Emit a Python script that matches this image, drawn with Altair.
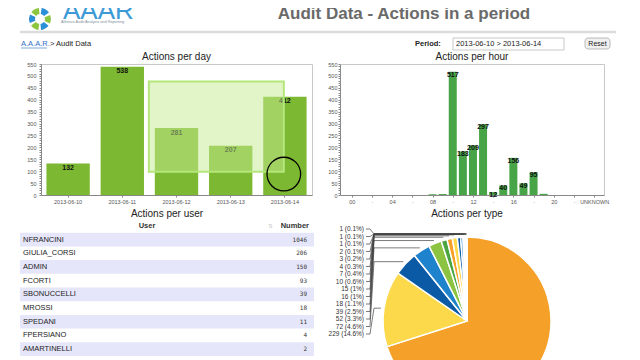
import altair as alt
import pandas as pd
import numpy as np

FONT = "Liberation Sans"

# ---------------- data ----------------
days = ["2013-06-10", "2013-06-11", "2013-06-12", "2013-06-13", "2013-06-14"]
day_counts = [132, 538, 281, 207, 412]

hours = [8, 9, 10, 11, 12, 13, 14, 15, 16, 17, 18, 19]
hour_counts = [3, 4, 517, 183, 209, 297, 12, 40, 156, 49, 95, 5]
hour_ticks = list(range(0, 25, 2))

users = ["NFRANCINI", "GIULIA_CORSI", "ADMIN", "FCORTI", "SBONUCCELLI",
         "MROSSI", "SPEDANI", "FPERSIANO", "AMARTINELLI", "GUEST"]
user_counts = [1046, 206, 150, 93, 39, 18, 11, 4, 2, 1]

type_counts = [1100, 229, 72, 52, 39, 18, 16, 15, 10, 7, 4, 3, 2, 1, 1, 1]
type_pcts = ["70.1%", "14.6%", "4.6%", "3.3%", "2.5%", "1.1%", "1%", "1%",
             "0.6%", "0.4%", "0.3%", "0.2%", "0.1%", "0.1%", "0.1%", "0.1%"]
palette = ["#f5a028", "#fcd84b", "#0b5aa5", "#1e82cd", "#8cc341", "#4ba541"]

# brush selection shown on the day chart (band units, count units)
brush_x = [1.99, 4.48]
brush_y = [98, 477]
cursor_at = [4.48, 88]

DAY_GREEN = "#7cb832"
HOUR_GREEN = "#47a447"

# left overhang shared by every row (width of the day chart's y axis)
OV = 21

# ---------------- header ----------------
one = pd.DataFrame({"k": [0]})
hb = alt.Chart(one)


def htext(s, x, y, clip=False, **kw):
    kw.setdefault("font", FONT)
    return hb.mark_text(text=s, clip=clip, **kw).encode(x=alt.value(x - OV), y=alt.value(y))


icon = []
for i in range(6):
    a0 = 0.15 + i * 1.047
    icon.append(hb.mark_arc(theta=a0, theta2=a0 + 0.8, radius=11, radius2=5,
                            color=["#2a8fd6", "#8cc63f"][i % 2])
                .encode(x=alt.value(20 - OV), y=alt.value(11)))

header = alt.layer(
    *icon,
    htext("AAAR", 43, 11, clip=True, fontSize=26, color="#3d9ad6", align="left",
          baseline="alphabetic"),
    htext("Alfresco Audit Analysis and Reporting", 41, 14, fontSize=3.8, color="#7f8f9c",
          align="left", baseline="middle"),
    htext("Audit Data - Actions in a period", 384, 5.5, clip=True, fontSize=17,
          fontWeight="bold", color="#6a6a6a", align="center", baseline="middle"),
    hb.mark_rule(color="#dcdcdc", strokeWidth=2.5).encode(
        x=alt.value(0 - OV), x2=alt.value(596 - OV), y=alt.value(24)),
    htext("A.A.A.R.", 1, 36, fontSize=7.5, color="#2f6fc9", align="left", baseline="middle"),
    hb.mark_rule(color="#2f6fc9", strokeWidth=0.6).encode(
        x=alt.value(1 - OV), x2=alt.value(27 - OV), y=alt.value(40)),
    htext("> Audit Data", 30, 36, fontSize=7.5, color="#222", align="left", baseline="middle"),
    htext("Period:", 395, 36, fontSize=7.5, fontWeight="bold", color="#222",
          align="left", baseline="middle"),
    hb.mark_rect(fill="white", stroke="#bbbbbb", strokeWidth=0.8).encode(
        x=alt.value(433 - OV), x2=alt.value(544 - OV), y=alt.value(30), y2=alt.value(42)),
    htext("2013-06-10 > 2013-06-14", 436, 36, fontSize=7.5, color="#222",
          align="left", baseline="middle"),
    hb.mark_rect(fill="#f0f0f0", stroke="#aaaaaa", strokeWidth=0.8, cornerRadius=3).encode(
        x=alt.value(565 - OV), x2=alt.value(590 - OV), y=alt.value(30), y2=alt.value(41)),
    htext("Reset", 577.5, 35.5, fontSize=7, color="#222", align="center", baseline="middle"),
).properties(width=575, height=42)

# ---------------- common axis ----------------
def y_axis(ext, pad):
    return alt.Axis(title=None, values=list(range(0, 551, 10)),
                    labelExpr="datum.value % 50 == 0 ? datum.label : ''",
                    labelFontSize=5.5, labelColor="#555", labelOverlap=False,
                    tickSize=2, tickColor="#888", domainColor="#888", grid=False,
                    labelPadding=pad, minExtent=ext, maxExtent=ext)


def title(t, dx=0):
    return alt.TitleParams(t, fontSize=10, fontWeight="normal", font=FONT,
                           color="#222", offset=0, dx=dx)


ysc = alt.Scale(domain=[0, 550], nice=False)

# ---------------- actions per day ----------------
day_df = pd.DataFrame({"day": days, "n": day_counts})
dbase = alt.Chart(day_df).encode(
    x=alt.X("day:N", sort=days, scale=alt.Scale(paddingInner=0.2, paddingOuter=0.1),
            axis=alt.Axis(title=None, labelAngle=0, labelFontSize=5.5, labelColor="#555",
                          tickSize=2, tickColor="#888", domainColor="#888", labelPadding=2,
                          minExtent=13, maxExtent=13)),
    y=alt.Y("n:Q", scale=ysc, axis=y_axis(OV, 3)),
)
dbars = dbase.mark_bar(color=DAY_GREEN)
dlabels = dbase.mark_text(baseline="middle", dy=4.5, fontSize=7, fontWeight="bold",
                          color="#111").encode(text="n:Q")
day_main = alt.layer(dbars, dlabels)

bsx = alt.Scale(domain=[0, 5], nice=False, zero=False)
bsy = alt.Scale(domain=[0, 550], nice=False)
brush_df = pd.DataFrame({"x0": [brush_x[0]], "x1": [brush_x[1]],
                         "y0": [brush_y[0]], "y1": [brush_y[1]]})
brush = alt.Chart(brush_df).mark_rect(fill="#c5ec92", fillOpacity=0.5, stroke="#b4e67a",
                                      strokeWidth=2).encode(
    x=alt.X("x0:Q", scale=bsx, axis=None), x2="x1:Q",
    y=alt.Y("y0:Q", scale=bsy, axis=None), y2="y1:Q",
)
cursor_df = pd.DataFrame({"cx": [cursor_at[0]], "cy": [cursor_at[1]]})
cursor = alt.Chart(cursor_df).mark_point(size=1130, filled=False, stroke="black",
                                         strokeWidth=1.3, opacity=1).encode(
    x=alt.X("cx:Q", scale=bsx, axis=None),
    y=alt.Y("cy:Q", scale=bsy, axis=None),
)
day_over = alt.layer(brush, cursor)
day_chart = alt.layer(day_main, day_over).resolve_scale(
    x="independent", y="independent").properties(
    width=271, height=131, title=title("Actions per day"),
    view=alt.ViewBackground(stroke="#c8c8c8"))

# ---------------- actions per hour ----------------
hour_df = pd.DataFrame({"h": hours, "n": hour_counts})
hbase = alt.Chart(hour_df).encode(
    x=alt.X("h:Q", scale=alt.Scale(domain=[-0.67, 24.48], nice=False, zero=False),
            axis=alt.Axis(title=None, values=hour_ticks, labelFontSize=5.5, labelColor="#555",
                          labelOverlap=False, tickSize=2, tickColor="#888", domainColor="#888",
                          labelPadding=2, grid=False, minExtent=13, maxExtent=13,
                          labelExpr="datum.value == 24 ? 'UNKNOWN' : (datum.value % 4 == 0 ? "
                                    "(datum.value < 10 ? '0' + datum.value : '' + datum.value) : '\u00b7')")),
    y=alt.Y("n:Q", scale=ysc, axis=y_axis(15, 1)),
)
hbars = hbase.mark_bar(size=8, color=HOUR_GREEN)
hlabels = hbase.transform_filter("datum.n >= 10").mark_text(
    baseline="middle", dy=3, fontSize=7, fontWeight="bold", color="#111").encode(text="n:Q")
hour_chart = alt.layer(hbars, hlabels).properties(
    width=264, height=131, title=title("Actions per hour"),
    view=alt.ViewBackground(stroke="#c8c8c8"))

# ---------------- actions per user (table) ----------------
TW = 294 - OV
rows = ["hdr"] + [str(i) for i in range(len(users))]
tdf = pd.DataFrame({"r": [str(i) for i in range(len(users))], "user": users,
                    "n": user_counts, "shade": [i % 2 == 0 for i in range(len(users))]})
ys = alt.Y("r:N", scale=alt.Scale(domain=rows, paddingInner=0, paddingOuter=0), axis=None)
tbg = alt.Chart(tdf).transform_filter("datum.shade").mark_rect(color="#e6e6fa").encode(
    x=alt.XDatum(0, scale=alt.Scale(domain=[0, 1], range=[-OV, TW]), axis=None),
    x2=alt.X2Datum(1), y=ys)
tnames = alt.Chart(tdf).mark_text(align="left", fontSize=7.5, color="#222", font=FONT).encode(
    x=alt.value(3 - OV), y=ys, text="user:N")
tnums = alt.Chart(tdf).mark_text(align="right", fontSize=6, color="#333",
                                 font="DejaVu Sans Mono").encode(
    x=alt.value(287 - OV), y=ys, text="n:Q")
hdr_df = pd.DataFrame({"r": ["hdr"]})
th_user = alt.Chart(hdr_df).mark_text(text="User", fontWeight="bold", fontSize=7.5,
                                      color="#333", font=FONT).encode(x=alt.value(127 - OV), y=ys)
th_num = alt.Chart(hdr_df).mark_text(text="Number", fontWeight="bold", fontSize=7.5, align="right",
                                     color="#333", font=FONT).encode(x=alt.value(289 - OV), y=ys)
th_sort = alt.Chart(hdr_df).mark_text(text="\u21c5", fontSize=6, color="#cccccc").encode(
    x=alt.value(250 - OV), y=ys)
table = alt.layer(tbg, tnames, tnums, th_user, th_num, th_sort).properties(
    width=TW, height=13.7 * len(rows), title=title("Actions per user", dx=-OV / 2))

# ---------------- actions per type (pie) ----------------
total = sum(type_counts)
cum = np.cumsum([0] + type_counts)
pie_df = pd.DataFrame({"idx": list(range(len(type_counts))), "n": type_counts,
                       "col": [palette[i % len(palette)] for i in range(len(type_counts))]})
R_OUT = 87
lab_rows, line_rows = [], []
for i in range(1, len(type_counts)):
    j = len(type_counts) - 1 - i
    ang = 2 * np.pi * (cum[i] + type_counts[i] / 2) / total
    xo, yo = R_OUT * np.sin(ang), R_OUT * np.cos(ang)
    ly = 92 - 7.5 * j
    lab_rows.append({"lx": -103, "ly": ly, "t": f"{type_counts[i]} ({type_pcts[i]})"})
    for k, (px, py) in enumerate([(-101, ly), (-97, ly), (-93, yo), (xo, yo)]):
        line_rows.append({"lbl": i, "k": k, "px": px, "py": py})
lab_df = pd.DataFrame(lab_rows)
line_df = pd.DataFrame(line_rows)

pxs = alt.Scale(domain=[-140, 140], nice=False, zero=False)
pys = alt.Scale(domain=[-102, 102], nice=False, zero=False)
arcs = alt.Chart(pie_df).mark_arc(radius=84, stroke="white", strokeWidth=1.5).encode(
    theta=alt.Theta("n:Q", stack=True), order=alt.Order("idx:Q"),
    color=alt.Color("col:N", scale=None))
plines = alt.Chart(line_df).mark_line(color="#444", strokeWidth=0.7).encode(
    x=alt.X("px:Q", scale=pxs, axis=None), y=alt.Y("py:Q", scale=pys, axis=None),
    detail="lbl:N", order="k:Q")
plabels = alt.Chart(lab_df).mark_text(align="right", baseline="middle", fontSize=6.5,
                                      color="#333", font=FONT).encode(
    x=alt.X("lx:Q", scale=pxs, axis=None), y=alt.Y("ly:Q", scale=pys, axis=None), text="t:N")
pie = alt.layer(arcs, plines, plabels).properties(
    width=280, height=204, title=title("Actions per type"))

# ---------------- assemble ----------------
row1 = alt.hconcat(day_chart, hour_chart, spacing=11)
row2 = alt.hconcat(table, pie, spacing=13)
chart = alt.concat(header, row1, row2, columns=1, spacing=0, align="none").properties(
    padding={"left": 10, "top": 0, "right": 0, "bottom": 0}
).configure(font=FONT).configure_view(stroke=None)

chart.save("out.html", embed_options={"renderer": "svg", "actions": False})
